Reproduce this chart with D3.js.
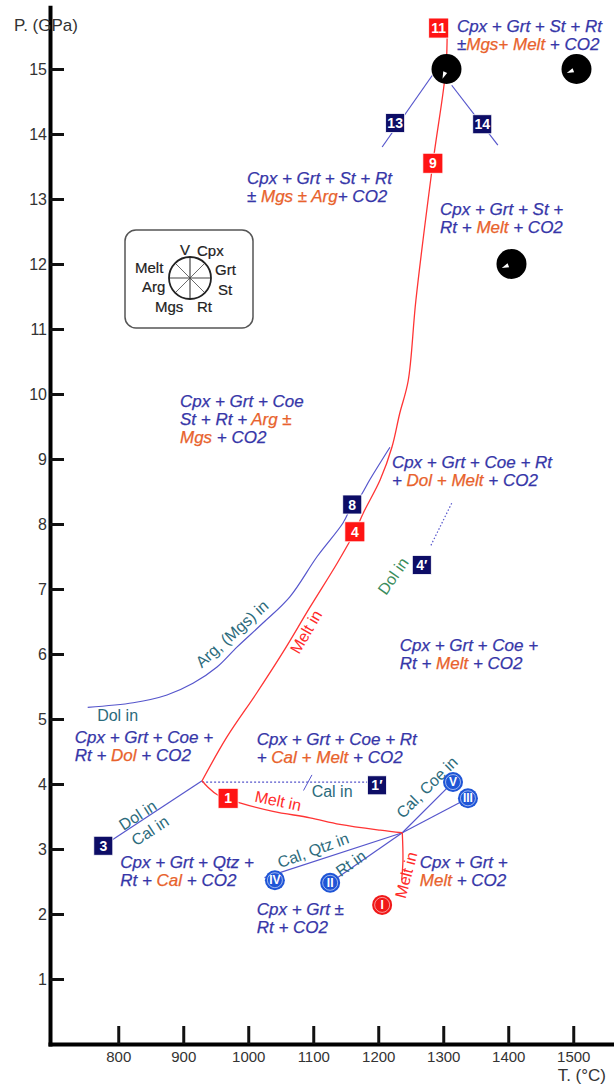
<!DOCTYPE html>
<html>
<head>
<meta charset="utf-8">
<script src="https://cdn.jsdelivr.net/npm/d3@7"></script>
<style>
  body { margin: 0; background: #fff; }
  svg { display: block; font-family: "Liberation Sans", Arial, sans-serif; }
</style>
</head>
<body>
<svg width="614" height="1085"></svg>
<script>
// axis ticks
var pTicks = [1, 2, 3, 4, 5, 6, 7, 8, 9, 10, 11, 12, 13, 14, 15];
var tTicks = [800, 900, 1000, 1100, 1200, 1300, 1400, 1500];

// phase boundaries, [T (°C), P (GPa)]
var meltInHigh = [[1306, 15.6], [1304, 15.0], [1284, 13.55], [1258, 11.45], [1246, 10.2],
  [1233, 9.7], [1221, 9.18], [1203, 8.68], [1177, 8.17], [1164, 7.88], [1137, 7.4],
  [1095, 6.72], [1053, 6.02], [1013, 5.4], [967, 4.72], [929, 4.05]];
var meltInLow = [[929, 4.05], [938, 3.95], [953, 3.83], [987, 3.71], [1038, 3.58],
  [1095, 3.48], [1141, 3.38], [1203, 3.29], [1237, 3.25]];
var meltInDown = [[1237, 3.25], [1238, 2.83], [1236, 2.52]];
var argMgsIn = [[753, 5.18], [823, 5.25], [875, 5.37], [915, 5.55], [952, 5.8], [983, 6.11],
  [1023, 6.48], [1064, 6.88], [1106, 7.5], [1146, 8.02], [1160, 8.29], [1172, 8.42],
  [1187, 8.68], [1218, 9.18]];
var dolCalIn = [[777, 3.05], [929, 4.05]];
var calInDashed = [[929, 4.03], [1198, 4.03]];
var calInSlash = [[1085, 3.9], [1098, 4.14]];
var dolInDotted = [[1313, 8.32], [1280, 7.65]];
var line13 = [[1283, 14.9], [1206, 13.8]];
var line14 = [[1313, 14.75], [1384, 13.83]];
var invariant = [1237, 3.25];
var invariantEnds = [[1315, 4.03], [1338, 3.78], [1025, 2.56], [1126, 2.48]];

// experiment labels
var navyBoxes = [["13", 1226, 14.17], ["14", 1360, 14.15], ["8", 1160, 8.3],
  ["4\u2032", 1267, 7.37], ["1\u2032", 1198, 3.98], ["3", 777, 3.05]];
var redBoxes = [["11", 1293, 15.63], ["9", 1284, 13.55], ["4", 1164, 7.88], ["1", 969, 3.78]];
var romanRuns = [["V", 1315, 4.03, "blue"], ["III", 1338, 3.78, "blue"], ["IV", 1041, 2.52, "blue"],
  ["II", 1126, 2.48, "blue"], ["I", 1206, 2.14, "red"]];

// assemblage symbols: position and missing phase
var legendPhases = ["Cpx", "Grt", "St", "Rt", "Mgs", "Arg", "Melt", "V"];
var symbols = [[1305, 15.0, "Mgs"], [1505, 15.0, "Arg"], [1405, 12.0, "Arg"]];

// field assemblages, {phase} = reacting phases
var fieldLabels = [
  [1321, 15.57, ["Cpx + Grt + St + Rt", "\u00b1{Mgs+ Melt} + CO2"]],
  [998, 13.23, ["Cpx + Grt + St + Rt", "\u00b1 {Mgs \u00b1 Arg}+ CO2"]],
  [1295, 12.75, ["Cpx + Grt + St +", "Rt + {Melt} + CO2"]],
  [895, 9.8, ["Cpx + Grt + Coe", "St + Rt + {Arg \u00b1}", "{Mgs} + CO2"]],
  [1221, 8.86, ["Cpx + Grt + Coe + Rt", "+ {Dol + Melt} + CO2"]],
  [1233, 6.05, ["Cpx + Grt + Coe +", "Rt + {Melt} + CO2"]],
  [733, 4.63, ["Cpx + Grt + Coe +", "Rt + {Dol} + CO2"]],
  [1013, 4.6, ["Cpx + Grt + Coe + Rt", "+ {Cal + Melt} + CO2"]],
  [803, 2.71, ["Cpx + Grt + Qtz +", "Rt + {Cal} + CO2"]],
  [1264, 2.71, ["Cpx + Grt +", "{Melt} + CO2"]],
  [1013, 1.98, ["Cpx + Grt \u00b1", "Rt + CO2"]]
];

// reaction labels: text, T, P, angle
var reactionLabels = [
  ["Dol in", 830, 3.52, -33], ["Cal in", 849, 3.28, -33], ["Cal in", 1129, 3.88, 0],
  ["Cal, Qtz in", 1100, 2.98, -20], ["Rt in", 1158, 2.78, -35], ["Cal, Coe in", 1275, 3.95, -45],
  ["Arg, (Mgs) in", 975, 6.31, -42], ["Dol in", 799, 5.05, 0]
];
var meltLabels = [["Melt in", 1046, 3.74, 12], ["Melt in", 1243, 2.6, -75], ["Melt in", 1089, 6.34, -60]];
var dolInLabel = ["Dol in", 1223, 7.2, -55];

var svg = d3.select("svg");

var x = d3.scaleLinear().domain([695, 1563]).range([50, 614.2]);
var y = d3.scaleLinear().domain([0, 15.95]).range([1044, 7.25]);

var straight = d3.line().x(function(d) { return x(d[0]); }).y(function(d) { return y(d[1]); });
var smooth = d3.line().x(function(d) { return x(d[0]); }).y(function(d) { return y(d[1]); })
  .curve(d3.curveCatmullRom.alpha(0.5));

var blue = "#5656cc", red = "#ff3434", teal = "#2c6b7c", textBlue = "#3636a8", orange = "#e8622c";

// axes
var yAxis = svg.append("g").attr("transform", "translate(50,0)")
  .call(d3.axisLeft(y).tickValues(pTicks).tickSizeInner(-14).tickSizeOuter(0).tickPadding(3));
var xAxis = svg.append("g").attr("transform", "translate(0,1044)")
  .call(d3.axisBottom(x).tickValues(tTicks).tickFormat(d3.format("d")).tickSizeInner(-18).tickSizeOuter(0));
[yAxis, xAxis].forEach(function(a) {
  a.select(".domain").attr("stroke", "#000").attr("stroke-width", 4).attr("stroke-linecap", "square");
  a.selectAll(".tick line").attr("stroke", "#111").attr("stroke-width", 3);
  a.selectAll(".tick text").attr("fill", "#333").attr("font-family", "Liberation Sans, Arial, sans-serif");
});
yAxis.selectAll(".tick text").attr("font-size", 16);
xAxis.selectAll(".tick text").attr("font-size", 15).attr("y", 18).attr("dy", 0);

svg.append("text").attr("x", 14).attr("y", 31).attr("font-size", 17).attr("fill", "#333").text("P. (GPa)");
svg.append("text").attr("x", 606).attr("y", 1081).attr("font-size", 17).attr("fill", "#333")
  .attr("text-anchor", "end").text("T. (\u00b0C)");

// boundaries
var lines = svg.append("g").attr("fill", "none");
lines.append("path").attr("d", smooth(argMgsIn)).attr("stroke", blue).attr("stroke-width", 1.2);
lines.append("path").attr("d", straight(dolCalIn)).attr("stroke", blue).attr("stroke-width", 1.2);
lines.append("path").attr("d", straight(calInDashed)).attr("stroke", blue).attr("stroke-width", 1.2)
  .attr("stroke-dasharray", "2,2");
lines.append("path").attr("d", straight(calInSlash)).attr("stroke", blue).attr("stroke-width", 1);
lines.append("path").attr("d", straight(dolInDotted)).attr("stroke", blue).attr("stroke-width", 1.2)
  .attr("stroke-dasharray", "1.5,2");
lines.append("path").attr("d", straight(line13)).attr("stroke", blue).attr("stroke-width", 1.2);
lines.append("path").attr("d", straight(line14)).attr("stroke", blue).attr("stroke-width", 1.2);
invariantEnds.forEach(function(e) {
  lines.append("path").attr("d", straight([invariant, e])).attr("stroke", blue).attr("stroke-width", 1.2);
});
lines.append("path").attr("d", smooth(meltInHigh)).attr("stroke", red).attr("stroke-width", 1.3);
lines.append("path").attr("d", smooth(meltInLow)).attr("stroke", red).attr("stroke-width", 1.3);
lines.append("path").attr("d", smooth(meltInDown)).attr("stroke", red).attr("stroke-width", 1.3);

// field assemblage text
var fields = svg.append("g").attr("font-size", 17).attr("font-style", "italic");
fieldLabels.forEach(function(f) {
  var t = fields.append("text").attr("x", x(f[0])).attr("y", y(f[1]));
  f[2].forEach(function(ln, i) {
    var parts = ln.split(/(\{[^}]*\})/).filter(function(s) { return s.length; });
    parts.forEach(function(p, j) {
      var hot = p.charAt(0) === "{";
      var c = hot ? orange : textBlue;
      var sp = t.append("tspan").attr("fill", c).attr("stroke", c).attr("stroke-width", 0.25)
        .text(hot ? p.slice(1, -1) : p);
      if (j === 0) sp.attr("x", x(f[0])).attr("dy", i === 0 ? 0 : 18);
    });
  });
});

// reaction labels along curves
function rotLabel(d, color) {
  svg.append("text")
    .attr("transform", "translate(" + x(d[1]) + "," + y(d[2]) + ") rotate(" + d[3] + ")")
    .attr("text-anchor", "middle").attr("dominant-baseline", "central")
    .attr("font-size", 16).attr("fill", color).text(d[0]);
}
reactionLabels.forEach(function(d) { rotLabel(d, teal); });
meltLabels.forEach(function(d) { rotLabel(d, "#ff2a2a"); });
rotLabel(dolInLabel, "#3a8c5c");

// numbered boxes
function box(d, fill, s) {
  var g = svg.append("g").attr("transform", "translate(" + x(d[1]) + "," + y(d[2]) + ")");
  g.append("rect").attr("x", -s / 2).attr("y", -s / 2).attr("width", s).attr("height", s)
    .attr("fill", fill).attr("stroke", "#fff").attr("stroke-width", 0.8);
  g.append("text").attr("text-anchor", "middle").attr("dominant-baseline", "central")
    .attr("font-size", 14).attr("font-weight", "bold").attr("fill", "#fff").text(d[0]);
}
navyBoxes.forEach(function(d) { box(d, "#0d0d66", 19); });
redBoxes.forEach(function(d) { box(d, "#ff1414", 20); });

// roman numbered runs
romanRuns.forEach(function(d) {
  var g = svg.append("g").attr("transform", "translate(" + x(d[1]) + "," + y(d[2]) + ")");
  g.append("circle").attr("r", 10).attr("fill", d[3] === "red" ? "#f01818" : "#1f55d6");
  g.append("circle").attr("r", 7.5).attr("fill", "none").attr("stroke", "#fff")
    .attr("stroke-width", 0.8).attr("opacity", 0.7);
  g.append("text").attr("text-anchor", "middle").attr("dominant-baseline", "central")
    .attr("font-size", 12).attr("font-weight", "bold").attr("fill", "#fff").text(d[0]);
});

// assemblage symbols: black disc, small white notch in the missing phase's sector
var sector = Math.PI / 4;
symbols.forEach(function(d) {
  var a = (legendPhases.indexOf(d[2]) + 0.5) * sector;
  var pt = function(r, da) { return [r * Math.sin(a + da), -r * Math.cos(a + da)]; };
  var g = svg.append("g").attr("transform", "translate(" + x(d[0]) + "," + y(d[1]) + ")");
  g.append("circle").attr("r", 15).attr("fill", "#000");
  g.append("path").attr("fill", "#fff")
    .attr("d", d3.line()([pt(10.5, 0), pt(4, -0.55), pt(4, 0.55)]) + "Z");
});

// legend
var lg = svg.append("g").attr("transform", "translate(190,278)");
lg.append("rect").attr("x", -65).attr("y", -48).attr("width", 128).attr("height", 98).attr("rx", 11)
  .attr("fill", "#fff").attr("stroke", "#555").attr("stroke-width", 1.5);
for (var k = 0; k < 4; k++) {
  var ang = k * sector;
  lg.append("line").attr("x1", -21 * Math.sin(ang)).attr("y1", 21 * Math.cos(ang))
    .attr("x2", 21 * Math.sin(ang)).attr("y2", -21 * Math.cos(ang))
    .attr("stroke", "#444").attr("stroke-width", k % 2 ? 0.8 : 1.2);
}
lg.append("circle").attr("r", 21).attr("fill", "none").attr("stroke", "#222").attr("stroke-width", 1.8);
var legendText = [["V", -10, -23], ["Cpx", 7, -22], ["Grt", 25, -3], ["St", 28, 17],
  ["Rt", 7, 34], ["Mgs", -35, 34], ["Arg", -48, 14], ["Melt", -55, -5]];
legendText.forEach(function(d) {
  lg.append("text").attr("x", d[1]).attr("y", d[2]).attr("font-size", 15).attr("fill", "#222")
    .attr("stroke", "#222").attr("stroke-width", 0.2).text(d[0]);
});
</script>
</body>
</html>
